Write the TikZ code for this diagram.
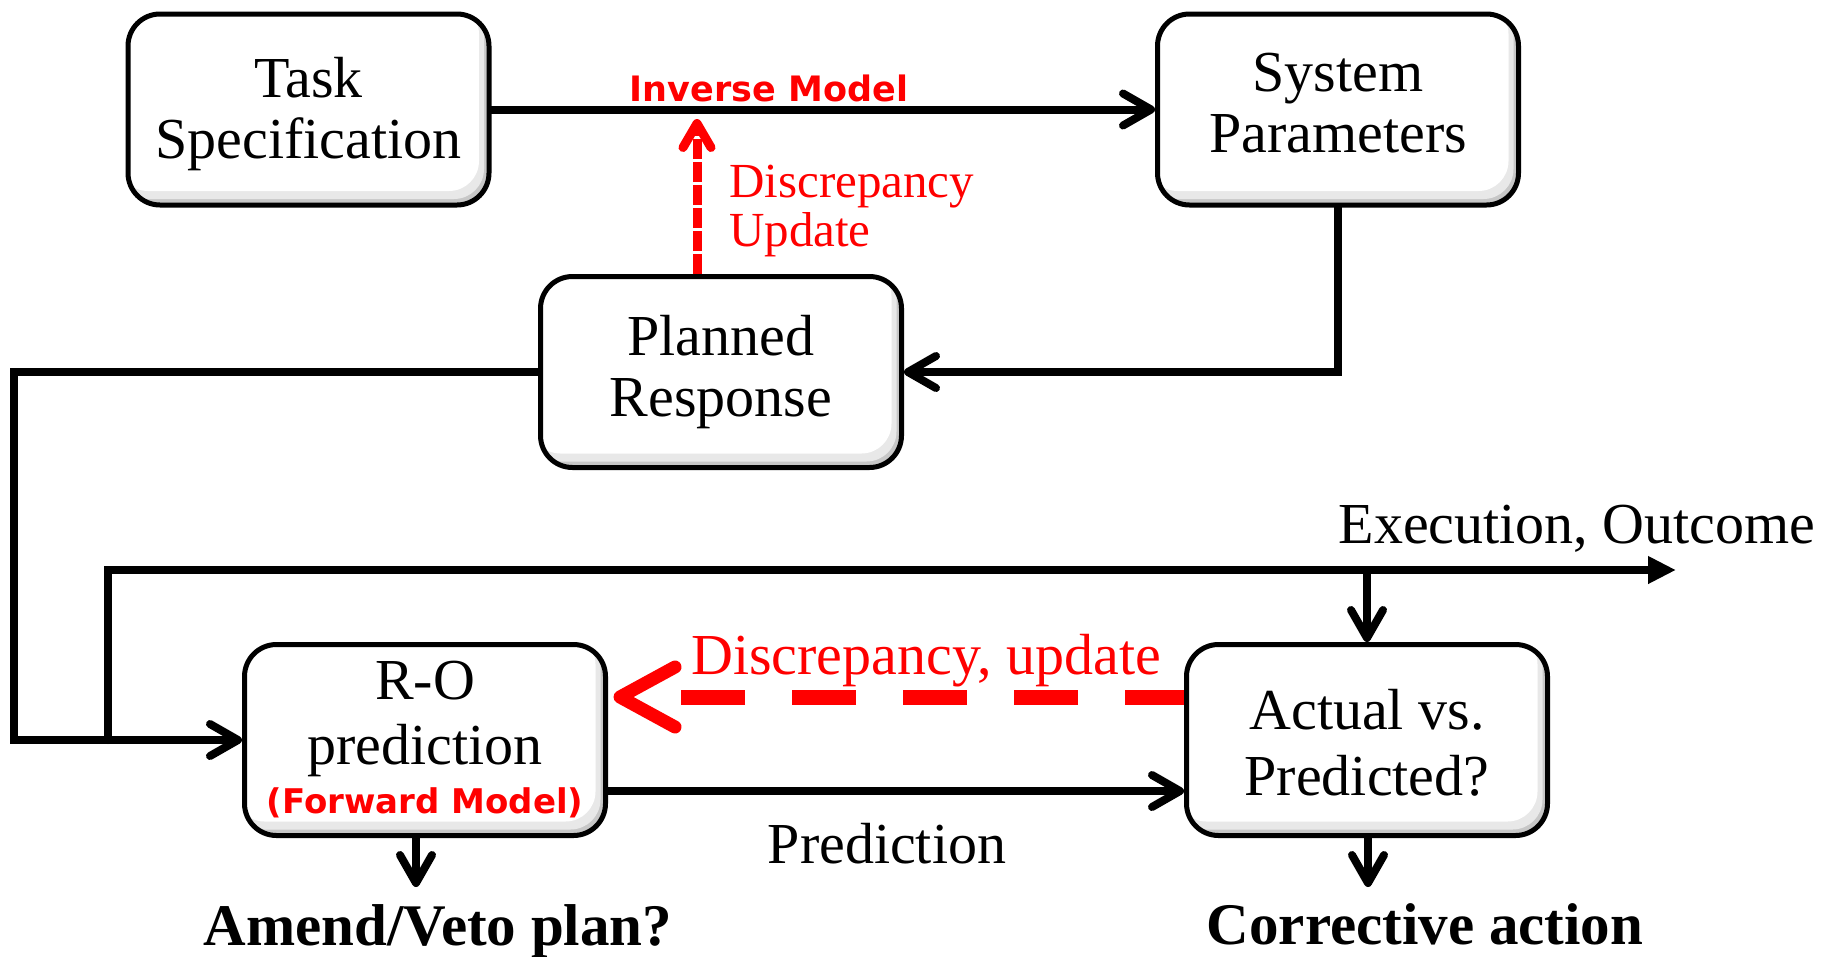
\documentclass[tikz,border=0pt]{standalone}
\usepackage{fontspec}
\setmainfont{Liberation Serif}
\newfontfamily\djv{DejaVu Sans}
\usetikzlibrary{arrows.meta}
\newcommand{\bigtxt}{\fontsize{58}{61}\selectfont}
\newcommand{\redtxt}{\fontsize{49}{49}\selectfont}
\newcommand{\boxtext}[2]{\raisebox{#1}[\height][\depth]{\begin{tabular}{@{}c@{}}#2\end{tabular}}}
\tikzset{
  box/.style={draw=black, line width=5pt, rounded corners=32pt,
    minimum width=361pt, minimum height=191pt, inner sep=0pt,
    align=center, font=\bigtxt,
    path picture={
      \fill[black!22] (path picture bounding box.south west) rectangle (path picture bounding box.north east);
      \fill[black!9, rounded corners=30pt] ([xshift=-10pt,yshift=10pt]path picture bounding box.north west) rectangle ([xshift=-5pt,yshift=6pt]path picture bounding box.south east);
      \fill[white, rounded corners=30pt] ([xshift=-10pt,yshift=10pt]path picture bounding box.north west) rectangle ([xshift=-10pt,yshift=14pt]path picture bounding box.south east);
    }},
  conn/.style={draw=black, line width=8pt, line cap=round},
  barb/.style={-{Straight Barb[length=28pt,width=32pt,line cap=round,line join=round]}},
  reddash/.style={draw=red, line width=9pt, dash pattern=on 20pt off 3pt,
    -{Straight Barb[length=24pt,width=28pt,line cap=round,line join=round]}},
  redthick/.style={draw=red, line width=15pt, dash pattern=on 64pt off 47pt, dash phase=5pt},
  redhead/.style={draw=red, line width=13pt, line cap=round, line join=round},
  lab/.style={font=\bigtxt, inner sep=0pt},
  boldlab/.style={font=\fontsize{59}{61}\selectfont\bfseries, inner sep=0pt},
  redlab/.style={font=\redtxt, text=red, inner sep=0pt, align=left},
  redsans/.style={font=\djv\bfseries\fontsize{35}{36}\selectfont, text=red, inner sep=0pt},
}
\begin{document}
\begin{tikzpicture}[x=1pt,y=-1pt]
\useasboundingbox (0,0) rectangle (1826,956);
% boxes
\node[box] (task) at (308.5,109.5) {\boxtext{-6pt}{Task\\Specification}};
\node[box] (sys) at (1338,109.5) {\boxtext{0pt}{System\\Parameters}};
\node[box] (plan) at (721,372) {Planned\\Response};
\node[box] (ro) at (425,740) {R-O\\[4pt]prediction\\[-12pt]{\djv\bfseries\fontsize{34}{36}\selectfont\color{red}(Forward Model)}};
\node[box] (act) at (1367,740) {\boxtext{-10pt}{Actual vs.\\[5pt]Predicted?}};
% coordinates
\coordinate (dtop) at (697,119);
\coordinate (lc) at (14,372);
\coordinate (br) at (108,740);
\coordinate (exend) at (1676,570);
\coordinate (rob) at (416,887);
\coordinate (actb) at (1368,887);
\coordinate (redtip) at ([xshift=12pt,yshift=43pt]ro.east);
\coordinate (redend) at (681,697);
% connectors
\draw[conn, barb] (task.east) -- (sys.west);
\draw[reddash] ([xshift=-24pt]plan.north) -- (dtop);
\draw[conn, barb] (sys.south) |- (plan.east);
\draw[conn, barb] (plan.west) -- (lc) |- (ro.west);
\draw[conn, -{Triangle[length=28pt,width=26pt]}] (br) |- (exend);
\draw[conn, barb] (act.north |- exend) -- (act.north);
\draw[redthick] ([yshift=43pt]act.west) -- (redend);
\draw[redhead] ([xshift=55pt,yshift=-30pt]redtip) -- (redtip) -- ([xshift=55pt,yshift=30pt]redtip);
\draw[conn, barb] ([yshift=-51pt]ro.east) -- ([yshift=-51pt]act.west);
\draw[conn, barb] (ro.south -| rob) -- (rob);
\draw[conn, barb] (act.south -| actb) -- (actb);
% labels
\node[redsans] (inv) at (769,88.5) {Inverse Model};
\node[redlab, anchor=west] (dupd) at (729,211) {Discrepancy\\Update};
\node[lab] (exec) at (1577,529) {Execution, Outcome};
\node[lab, text=red] (disc) at (926,661) {Discrepancy, update};
\node[lab] (pred) at (887,844) {Prediction};
\node[boldlab] (amend) at (438,931) {Amend/Veto plan?};
\node[boldlab] (corr) at (1425,924) {Corrective action};
\end{tikzpicture}
\end{document}
